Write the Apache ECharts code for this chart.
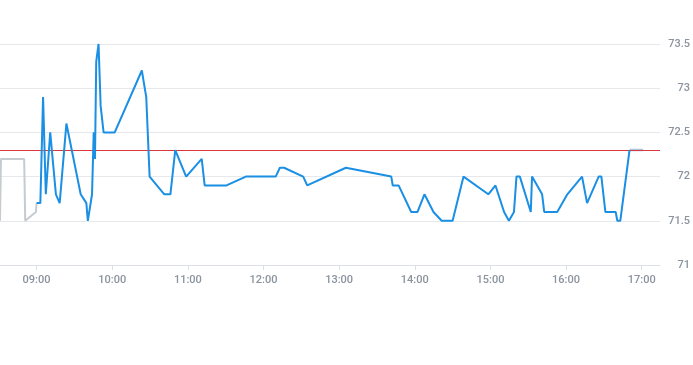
<!DOCTYPE html>
<html>
<head>
<meta charset="utf-8">
<script src="https://cdn.jsdelivr.net/npm/echarts@6/dist/echarts.min.js"></script>
<style>html,body{margin:0;padding:0;background:#fff}#c{width:693px;height:365px}</style>
</head>
<body>
<div id="c"></div>
<script>
// Pre-market (grey)
const preTimes = ["08:31:00","08:31:45","08:50:10","08:51:00","08:59:30","09:00:00"];
const preValues = [71.5,72.2,72.2,71.5,71.6,71.7];
// Session (blue)
const mainTimes = ["09:00:00","09:03:00","09:05:10","09:07:20","09:10:50","09:15:20","09:18:20","09:23:40","09:35:00","09:39:30","09:40:40","09:44:00","09:45:20","09:46:20","09:47:20","09:49:10","09:50:50","09:53:10","10:02:00","10:23:30","10:27:00","10:29:40","10:41:20","10:46:10","10:50:00","10:58:40","11:11:00","11:13:20","11:30:40","11:46:00","12:09:40","12:13:00","12:16:20","12:31:30","12:34:40","13:05:20","13:41:20","13:42:30","13:47:10","13:57:10","14:02:10","14:07:40","14:14:50","14:21:20","14:30:00","14:38:40","14:58:20","15:04:00","15:10:50","15:14:40","15:18:40","15:20:40","15:23:20","15:32:00","15:33:00","15:41:00","15:42:40","15:53:00","16:01:00","16:12:40","16:16:40","16:25:50","16:28:00","16:31:10","16:39:20","16:40:40","16:43:00","16:50:20"];
const mainValues = [71.7,71.7,72.9,71.8,72.5,71.8,71.7,72.6,71.8,71.7,71.5,71.8,72.5,72.2,73.3,73.5,72.8,72.5,72.5,73.2,72.9,72.0,71.8,71.8,72.3,72.0,72.2,71.9,71.9,72.0,72.0,72.1,72.1,72.0,71.9,72.1,72.0,71.9,71.9,71.6,71.6,71.8,71.6,71.5,71.5,72.0,71.8,71.9,71.6,71.5,71.6,72.0,72.0,71.6,72.0,71.8,71.6,71.6,71.8,72.0,71.7,72.0,72.0,71.6,71.6,71.5,71.5,72.3];
// Post-market
const postTimes = ["16:50:20","17:01:00"];
const postValues = [72.3,72.3];
const prevClose = 72.3;
const tickLabels = ["09:00","10:00","11:00","12:00","13:00","14:00","15:00","16:00","17:00"];
const yTicks = [71,71.5,72,72.5,73,73.5];

function toMin(t){const p=t.split(':').map(Number);return p[0]*60+p[1]+(p[2]||0)/60;}
function pairs(ts,vs){return ts.map((t,i)=>[toMin(t),vs[i]]);}
const tickMins = tickLabels.map(toMin);
function fmt(m){const h=Math.floor(m/60),mm=Math.round(m%60);return String(h).padStart(2,'0')+':'+String(mm).padStart(2,'0');}

const labelFont = {color:'#8a939e',fontSize:11,fontFamily:'Roboto',fontWeight:500};
const chart = echarts.init(document.getElementById('c'), null, {renderer:'canvas'});
chart.setOption({
  animation:false,
  grid:{left:0,right:30,top:44,bottom:100,containLabel:false},
  xAxis:{
    type:'value', min:toMin("08:31:00"), max:toMin("17:14:30"),
    axisLine:{show:true,lineStyle:{color:'#dcdfe3'}},
    axisTick:{show:true,length:5,lineStyle:{color:'#dcdfe3'},customValues:tickMins},
    axisLabel:Object.assign({margin:10,customValues:tickMins,formatter:fmt},labelFont),
    splitLine:{show:false}
  },
  yAxis:{
    type:'value', position:'right', min:yTicks[0], max:yTicks[yTicks.length-1], interval:0.5,
    axisLine:{show:false}, axisTick:{show:false},
    axisLabel:Object.assign({align:'right',margin:30},labelFont),
    splitLine:{show:true,lineStyle:{color:'#e6e8eb'}}
  },
  series:[
    {type:'line',data:pairs(preTimes,preValues),showSymbol:false,lineStyle:{color:'#c6cbd0',width:2},z:2},
    {type:'line',data:pairs(postTimes,postValues),showSymbol:false,lineStyle:{color:'#a9c6de',width:2.5},z:4},
    {type:'line',data:pairs(mainTimes,mainValues),showSymbol:false,lineStyle:{color:'#1a8fe3',width:2},z:5,
     markLine:{silent:true,symbol:['none','none'],label:{show:false},lineStyle:{color:'#d9363e',width:1,type:'solid'},data:[{yAxis:prevClose}]}}
  ]
});
</script>
</body>
</html>
